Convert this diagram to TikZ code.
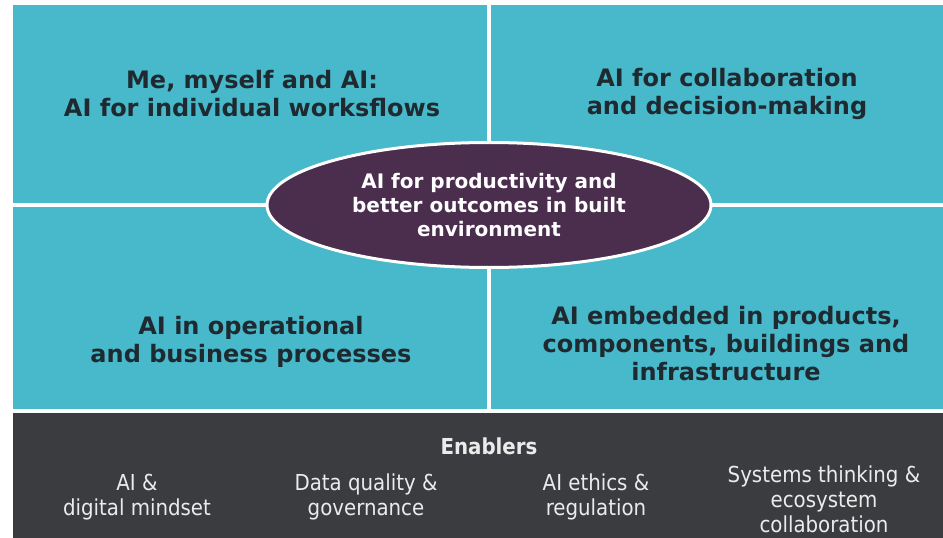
\documentclass[tikz,border=0pt]{standalone}
\usepackage{fontspec}
\setmainfont{DejaVu Sans}
\newfontfamily\condfont{DejaVu Sans Condensed}
\usetikzlibrary{positioning, shapes}

\definecolor{quadcyan}{HTML}{48B8CB}
\definecolor{hubpurple}{HTML}{4B2E4E}
\definecolor{enablergray}{HTML}{3B3C3F}
\definecolor{headink}{HTML}{1F2A30}

\begin{document}
\begin{tikzpicture}[x=1pt, y=-1pt,
	quad/.style={fill=quadcyan, inner sep=0pt, anchor=north west},
	quadtext/.style={align=center, text=headink, font=\fontsize{24}{28}\selectfont\bfseries},
	enabler/.style={align=center, text=white!92!black, font=\condfont\fontsize{22}{25}\selectfont}]

\useasboundingbox (0,0) rectangle (943,538);

\node [quad, minimum width=474pt, minimum height=198pt] (tl) at (13,5) {};
\node [quad, minimum width=452pt, minimum height=198pt] (tr) at (491,5) {};
\node [quad, minimum width=474pt, minimum height=202pt] (bl) at (13,207) {};
\node [quad, minimum width=452pt, minimum height=202pt] (br) at (491,207) {};

\node [fill=enablergray, inner sep=0pt, anchor=north west,
	minimum width=930pt, minimum height=125pt] (bar) at (13,413) {};

\node [quadtext] (tltext) at (252,94) {Me, myself and AI:\\AI for individual worksflows};
\node [quadtext] (trtext) at (727,94) {AI for collaboration\\and decision-making};
\node [quadtext] (bltext) at (251,342) {AI in operational\\and business processes};
\node [quadtext] (brtext) at (726,344) {AI embedded in products,\\components, buildings and\\infrastructure};

\node [draw=white, line width=3pt, ellipse, fill=hubpurple, inner sep=0pt,
	minimum width=444pt, minimum height=125pt, align=center, text=white,
	font=\fontsize{20}{24}\selectfont\bfseries] (hub) at (489,205) {
	AI for productivity and\\better outcomes in built\\environment};

\node [enabler, font=\condfont\bfseries\fontsize{22}{25}\selectfont] (enablers) at (489,446) {Enablers};
\node [enabler] (mindset) at (137,497) {AI \&\\digital mindset};
\node [enabler] (data) at (366,497) {Data quality \&\\governance};
\node [enabler] (ethics) at (596,497) {AI ethics \&\\regulation};
\node [enabler] (systems) at (824,499) {Systems thinking \&\\ecosystem\\collaboration};

\end{tikzpicture}
\end{document}
